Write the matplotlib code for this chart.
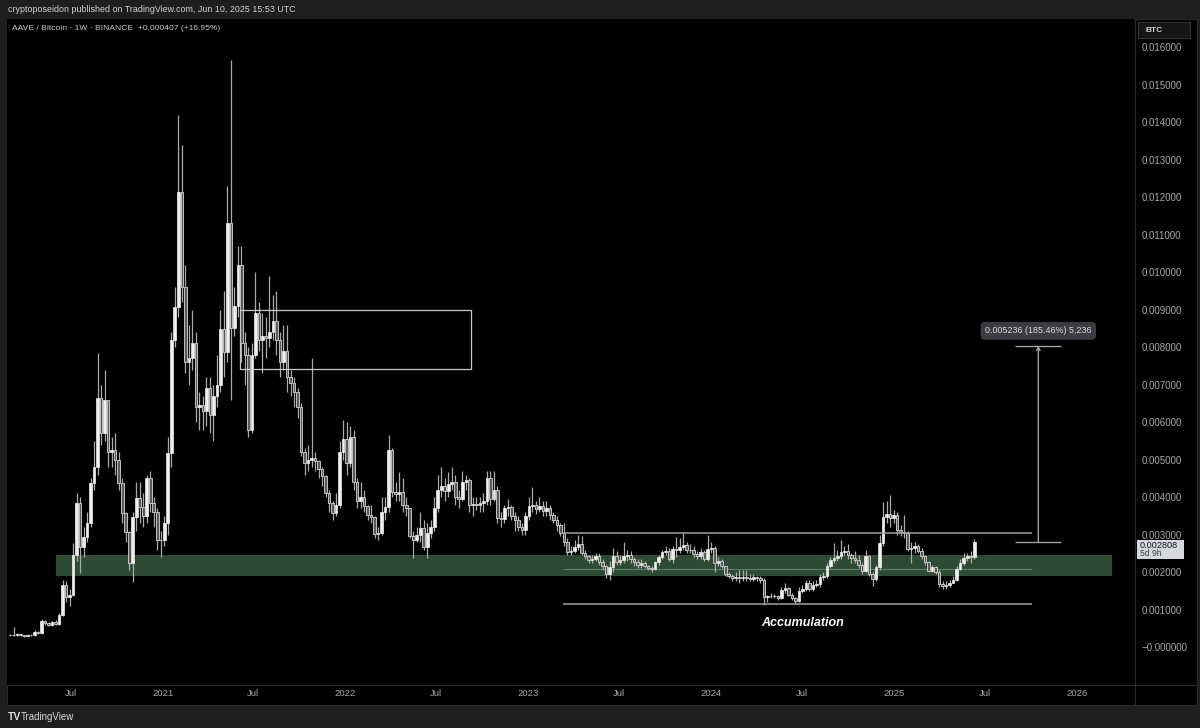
import numpy as np
import pandas as pd
import matplotlib
matplotlib.use('Agg')
import matplotlib.pyplot as plt
import matplotlib.dates as mdates
from matplotlib.patches import Rectangle
from matplotlib.lines import Line2D

plt.rcParams['font.family'] = ['Liberation Sans', 'DejaVu Sans']

# weekly AAVE/BTC candles, prices in units of 0.0001 BTC
last_week = '2025-06-09'

close_e4 = [
    3.3, 3.1, 3.4, 3.2, 3.0, 3.2, 3.1, 4.0, 3.7, 6.9,
    6.3, 5.8, 6.6, 6.2, 8.5, 16.5, 13.3, 14.0, 24.5, 38.4,
    26.7, 29.3, 33.0, 43.7, 48.0, 66.4, 57.0, 66.0, 52.0, 52.5,
    50.0, 43.7, 35.7, 30.7, 22.4, 34.7, 39.7, 37.3, 35.0, 45.0,
    38.4, 36.0, 28.5, 28.5, 33.0, 51.7, 81.9,
    90.7, 121.3, 96.0, 76.0, 77.0, 81.0, 64.0, 64.5, 63.0, 69.0,
    62.0, 67.0, 70.0, 84.8, 78.7, 113.0, 85.0, 91.0, 102.0, 81.0,
    78.0, 58.0, 78.0, 89.0, 82.0, 83.0, 82.5, 84.0, 87.0, 82.0,
    76.0, 79.0, 72.0, 70.5, 68.0, 64.0, 52.0, 49.0, 50.0, 50.5,
    49.5, 47.5, 45.5, 41.0, 38.4, 35.7, 38.0, 52.0, 55.5, 49.0,
    56.0, 44.0, 38.9, 40.0, 37.6, 35.3, 34.8, 30.2, 30.4, 36.0,
    37.3, 52.5, 41.3, 40.9, 41.3, 37.9, 37.0, 29.5, 28.5, 29.9,
    31.7, 26.7, 30.5, 32.0, 37.0, 41.8, 43.0, 41.5, 43.4, 44.0,
    40.0, 39.5, 44.0, 44.5, 37.8, 38.2, 38.0, 38.3, 39.0, 45.0,
    39.5, 42.0, 34.4, 34.2, 37.0, 37.3, 35.0, 34.0, 32.0, 31.3,
    35.0, 37.5, 37.8, 36.8, 37.5, 36.3, 37.0, 35.3, 33.9, 32.5,
    30.5,
    28.0, 25.3, 25.6, 26.7, 27.5, 25.0, 24.2, 23.3, 23.5, 24.2,
    22.8, 21.5, 19.5, 21.3, 24.3, 22.8, 23.3, 24.3, 24.5, 23.5,
    22.6, 22.0, 22.4, 21.7, 21.2, 20.8, 22.6, 24.0, 25.3, 25.7,
    23.5, 26.2, 26.0, 26.7, 27.3, 25.8, 26.0, 24.8, 24.2, 25.3,
    23.5, 26.2, 26.5, 22.4, 23.0, 21.5, 19.6, 18.9, 18.3, 18.7,
    18.3, 18.8, 18.4, 18.2, 18.6, 18.4, 17.9, 13.3, 13.5, 13.6,
    13.5, 13.1, 15.2,
    15.8, 13.9, 13.1, 12.4, 14.9, 15.6, 17.2, 15.4, 16.5, 16.9,
    18.7, 19.0, 21.5, 23.3, 23.8, 24.3, 25.4, 25.6, 24.5, 23.7,
    23.3, 21.9, 20.4, 24.2, 19.6, 18.1, 21.3, 27.7, 34.7, 35.5,
    34.4, 35.3, 31.3, 30.7, 30.5, 26.2, 26.5, 26.9, 25.5, 24.3,
    22.6, 20.4, 21.3, 20.0, 16.7, 16.2, 16.5, 17.1, 18.0, 20.9,
    22.4, 23.7, 24.3, 24.0, 28.08,
]

high_e4 = [
    3.6, 5.3, 3.7, 3.5, 3.3, 3.4, 3.4, 4.5, 4.3, 7.5,
    7.3, 6.6, 7.0, 7.2, 9.0, 18.0, 17.5, 15.5, 27.7, 41.0,
    40.0, 32.0, 36.0, 45.0, 55.0, 78.4, 70.0, 73.9, 66.0, 56.0,
    57.0, 52.0, 45.0, 36.0, 31.0, 36.0, 44.0, 44.0, 41.0, 46.0,
    47.0, 40.0, 37.0, 31.0, 35.0, 56.0, 84.0,
    96, 141.9, 133.9, 102, 86, 90, 84, 68, 67, 72,
    72, 70, 78, 90, 95, 123, 156.5, 96, 107, 107,
    84, 80, 81, 100, 92, 89, 88, 99, 94, 95,
    84, 86, 86, 74, 72, 69, 65, 53, 54, 77,
    52, 50, 48, 46, 42, 39, 41, 55, 60.5, 60,
    59, 58, 45, 44, 42, 38, 38, 35, 32, 40,
    40, 56.5, 53, 44, 46.7, 45, 40, 37, 31, 32,
    36, 34, 33, 34, 40, 46, 48, 45, 46.7, 48,
    46, 42, 47, 46, 45, 40, 40, 40, 41, 47,
    47, 47, 43, 36, 38, 39.5, 38, 36, 35, 33,
    36, 40, 42.7, 39, 40, 39, 39, 38, 36, 35,
    33,
    33, 29, 27, 28.5, 30, 29.5, 26, 24.5, 24.5, 25,
    25, 23.5, 22, 23, 26.5, 25.5, 24.5, 28, 26, 25.5,
    24, 23.5, 23.5, 23, 22, 21.5, 23, 24.5, 26, 27,
    26.5, 27, 29.3, 29, 30.4, 28, 27.5, 27, 25.5, 26.5,
    26, 29.9, 28, 27, 24, 23.5, 21.5, 20, 19.5, 20,
    20.5, 20.5, 20.5, 19.5, 19.5, 19, 19, 18.5, 14, 14.5,
    14.2, 14, 16,
    17, 16, 14.3, 13.3, 16, 16.5, 18, 18, 17.5, 18,
    19.5, 20, 22.5, 24, 27.7, 26, 28.5, 27, 27.5, 25,
    25.5, 24.5, 22.5, 25.9, 24.5, 20, 22, 30, 38.7, 39,
    40.5, 36.5, 36, 32.5, 35.2, 31, 28, 28, 27.5, 26.5,
    24.5, 23, 22, 21.5, 20.5, 17.5, 17.5, 18, 19, 21.5,
    23.5, 25, 25, 25.5, 28.8,
]

low_e4 = [
    3.0, 3.0, 3.0, 2.9, 2.8, 2.9, 2.9, 3.0, 3.5, 3.6,
    6.0, 5.5, 5.6, 5.8, 6.0, 8.3, 12.0, 11.0, 13.5, 23.0,
    19.7, 24.0, 28.0, 32.0, 42.0, 46.0, 54.0, 55.0, 48.0, 48.0,
    46.0, 42.0, 33.0, 28.0, 20.5, 17.3, 31.0, 33.0, 32.0, 33.0,
    36.0, 32.0, 26.0, 24.0, 27.0, 30.0, 48.0,
    80, 88, 92, 73, 70, 74, 60, 58, 58, 59,
    57, 55, 64, 68, 72, 76, 66, 83, 88, 76,
    70, 56, 57, 77, 79, 73, 77, 80, 82, 78,
    72, 74, 68, 67, 64, 61, 51, 46, 47, 48,
    47, 45, 43, 40, 36, 33.9, 35, 37, 50, 46,
    48, 42, 37, 37, 36, 34, 33, 29, 28.5, 30,
    34, 36, 40, 39, 39, 36, 35, 29, 23.7, 28,
    28, 26, 23.7, 29, 31, 36, 40, 39, 40, 42,
    38, 37, 39, 42, 36, 35, 36.5, 36, 36, 38,
    38, 39, 33, 32, 33, 35, 34, 31, 31, 30,
    30, 34, 36, 35.5, 36, 35, 35, 34, 33, 31,
    29.5,
    27, 24.5, 24.5, 25, 26, 24.5, 23.5, 22.5, 22.5, 23,
    22, 20.5, 18.4, 18, 20, 22, 22, 22.5, 23, 22.5,
    21.5, 21, 21, 21, 20.5, 20, 20.5, 22, 23.5, 24.5,
    23, 22.5, 24, 25, 26, 25, 25, 24, 23.5, 23.5,
    23, 23, 25, 20, 21.5, 21, 19, 18.5, 17.5, 17.5,
    17, 17.5, 17.5, 17.5, 17.5, 17.5, 17, 11.2, 12, 13,
    13, 12.5, 12.8,
    14.5, 13.5, 12.5, 11.6, 12, 14.5, 15, 15, 15, 16,
    16, 18, 18.5, 21, 22.5, 23, 23.5, 24.5, 23.5, 22.5,
    22.5, 21, 19.5, 20, 19, 16.3, 17.5, 20.5, 27, 33,
    32, 33, 30, 29.5, 29, 25.5, 22.4, 25, 25, 23.5,
    22, 20, 20, 19.5, 16, 15.5, 15.5, 16, 17, 17.5,
    20.5, 22, 23, 22.5, 23.5,
]

# drawings on the chart
zone_lo, zone_hi = 0.00189, 0.00245
zone_start, zone_end = '2020-06-01', '2026-03-11'
range_start, range_end = '2023-03-12', '2025-10-03'
range_top, range_mid, range_bottom = 0.00304, 0.00208, 0.00115
box_start, box_end = '2021-06-05', '2022-09-09'
box_lo, box_hi = 0.00741, 0.00899
measure_left, measure_x, measure_right = '2025-08-30', '2025-10-15', '2025-11-30'
measure_lo, measure_hi = 0.0028, 0.008036
measure_text = '0.005236 (185.46%) 5,236'
accum_date, accum_price = '2024-07-01', 0.00064

y_ticks = [i * 0.001 for i in range(17)]
x_tick_dates = ['2020-07-01', '2021-01-01', '2021-07-01', '2022-01-01', '2022-07-01',
                '2023-01-01', '2023-07-01', '2024-01-01', '2024-07-01', '2025-01-01',
                '2025-07-01', '2026-01-01']
x_tick_labels = ['Jul', '2021', 'Jul', '2022', 'Jul', '2023', 'Jul', '2024', 'Jul',
                 '2025', 'Jul', '2026']

close = np.array(close_e4) * 1e-4
high = np.array(high_e4) * 1e-4
low = np.array(low_e4) * 1e-4
assert len(close) == len(high) == len(low)
opn = np.r_[close[0], close[:-1]]
high = np.maximum(high, np.maximum(opn, close))
low = np.minimum(low, np.minimum(opn, close))

dates = pd.date_range(end=last_week, periods=len(close), freq='7D')
x = mdates.date2num(dates)


def d(s):
    return mdates.date2num(pd.Timestamp(s))


def fx(px):
    return px / 1200.0


def fy(py):
    return 1 - py / 728.0


fig = plt.figure(figsize=(12, 7.28), dpi=100, facecolor='#1e1e1e')

# black chart panel (behind the axes)
fig.patches.append(Rectangle((fx(7), fy(705)), fx(1197) - fx(7), fy(19) - fy(705),
                             transform=fig.transFigure, facecolor='black',
                             edgecolor='#2a2a2a', lw=0.8, zorder=-5))

ax = fig.add_axes([fx(7), fy(685), fx(1135) - fx(7), fy(19) - fy(685)])
ax.set_facecolor('black')

# support zone and range lines
ax.add_patch(Rectangle((d(zone_start), zone_lo), d(zone_end) - d(zone_start),
                       zone_hi - zone_lo, facecolor='#2d4a33', edgecolor='none', zorder=1))
ax.hlines(range_mid, d(range_start), d(range_end), color='#5f8264', lw=0.8, zorder=1)
ax.hlines([range_top, range_bottom], d(range_start), d(range_end),
          color='#a0a0a0', lw=1.1, zorder=4)

# supply box
ax.add_patch(Rectangle((d(box_start), box_lo), d(box_end) - d(box_start), box_hi - box_lo,
                       facecolor='none', edgecolor='#c8c8c8', lw=0.9, zorder=4))

# candles
up = close >= opn
body_lo = np.minimum(opn, close)
body_h = np.abs(close - opn)
ax.vlines(x, low, high, color='#ababab', lw=0.9, zorder=2)
ax.bar(x[up], body_h[up], bottom=body_lo[up], width=5.2, color='#efefef',
       edgecolor='#efefef', lw=0.5, zorder=3)
ax.bar(x[~up], body_h[~up], bottom=body_lo[~up], width=5.2, color='#5a5a5a',
       edgecolor='#d6d6d6', lw=0.6, zorder=3)

# measure tool
ax.hlines([measure_lo, measure_hi], d(measure_left), d(measure_right), color='#a0a0a0', lw=1)
ax.annotate('', xy=(d(measure_x), measure_hi), xytext=(d(measure_x), measure_lo),
            arrowprops=dict(arrowstyle='->', color='#a0a0a0', lw=1, shrinkA=0, shrinkB=0,
                            mutation_scale=6))
ax.text(d(measure_x), 0.00843, measure_text, ha='center', va='center', fontsize=6.4,
        color='#dcdcdc', zorder=6,
        bbox=dict(boxstyle='round,pad=0.5', fc='#3b3b42', ec='none'))

ax.text(d(accum_date), accum_price, 'Accumulation', ha='center', va='center', color='white',
        fontsize=9, fontweight='bold', fontstyle='italic')

# axes
ax.set_xlim(d('2020-02-25'), d('2026-04-26'))
ax.set_ylim(-0.001013, 0.016747)
ax.yaxis.tick_right()
ax.set_yticks(y_ticks)
ax.set_yticklabels(['\u22120.000000'] + ['%.6f' % v for v in y_ticks[1:]])
ax.set_xticks([d(s) for s in x_tick_dates])
ax.set_xticklabels(x_tick_labels)
ax.tick_params(axis='y', length=0, pad=5, labelsize=7, labelcolor='#a8a8a8')
ax.tick_params(axis='x', length=0, pad=3, labelsize=6.8, labelcolor='#a8a8a8')
for side in ['top', 'left']:
    ax.spines[side].set_visible(False)
ax.spines['right'].set_color('#2b2b2b')
ax.spines['bottom'].set_color('#2b2b2b')

fig.lines.append(Line2D([fx(1135), fx(1135)], [fy(685), fy(705)], transform=fig.transFigure,
                        color='#2b2b2b', lw=0.8))
fig.lines.append(Line2D([fx(1135), fx(1197)], [fy(685), fy(685)], transform=fig.transFigure,
                        color='#2b2b2b', lw=0.8))

# header and footer
fig.text(fx(8), fy(10), 'cryptoposeidon published on TradingView.com, Jun 10, 2025 15:53 UTC',
         fontsize=6.4, color='#d4d4d4', va='center')
fig.text(fx(12), fy(29), 'AAVE / Bitcoin \u00b7 1W \u00b7 BINANCE  +0.000407 (+16.95%)',
         fontsize=6.1, color='#c8c8c8', va='center')
fig.text(fx(8), fy(717), 'TV', fontsize=7.5, fontweight='bold', color='#e0e0e0', va='center')
fig.text(fx(21), fy(717), 'TradingView', fontsize=7, color='#d8d8d8', va='center')

# currency box
fig.patches.append(Rectangle((fx(1138), fy(38)), fx(1190) - fx(1138), fy(22) - fy(38),
                             transform=fig.transFigure, facecolor='#161616',
                             edgecolor='#333333', lw=0.8, zorder=3))
fig.text(fx(1145), fy(30), 'BTC', fontsize=6, fontweight='bold', color='#d0d0d0', va='center',
         zorder=4)

# last price label (sits just under the 0.003000 tick)
fig.patches.append(Rectangle((fx(1137), fy(559)), fx(1184) - fx(1137), fy(539.5) - fy(559),
                             transform=fig.transFigure, facecolor='#d6d8de', edgecolor='none',
                             zorder=3))
fig.text(fx(1140), fy(545), '0.002808', fontsize=6.6, color='#131722', va='center', zorder=4)
fig.text(fx(1140), fy(553.5), '5d 9h', fontsize=6.2, color='#3a3d45', va='center', zorder=4)

fig.savefig('out.png', dpi=100, facecolor=fig.get_facecolor())
